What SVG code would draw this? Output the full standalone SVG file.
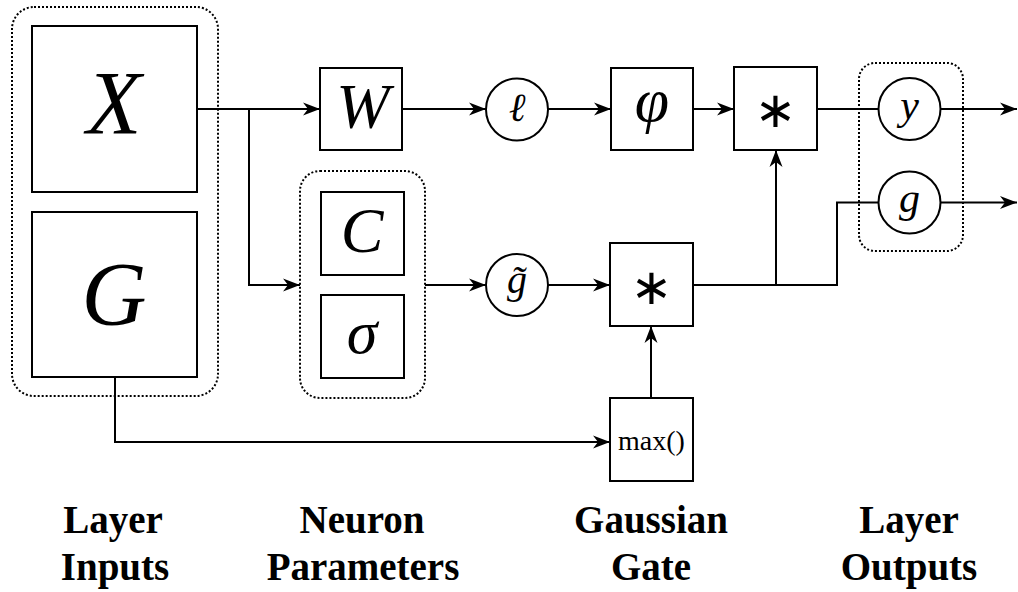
<svg xmlns="http://www.w3.org/2000/svg" width="1018" height="592" viewBox="0 0 1018 592">
<style>
.box{fill:#fff;stroke:#000;stroke-width:2}
.grp{fill:none;stroke:#000;stroke-width:2;stroke-dasharray:2 2}
.ln{fill:none;stroke:#000;stroke-width:2}
.m{font-family:"Liberation Serif","DejaVu Serif",serif;font-style:italic;text-anchor:middle;fill:#000}
.op{font-family:"DejaVu Sans",sans-serif;text-anchor:middle;fill:#000}
.fn{font-family:"Liberation Serif",serif;text-anchor:middle;fill:#000}
.lbl{font-family:"Liberation Serif",serif;font-weight:bold;font-size:39px;text-anchor:middle;fill:#000}
</style>
<defs>
<marker id="ah" markerUnits="userSpaceOnUse" markerWidth="18" markerHeight="16" refX="17" refY="8" orient="auto">
<path d="M0,1.5 L17,8 L0,14.5 L5,8 Z" fill="#000"/>
</marker>
</defs>
<g id="inputs-group"><rect class="grp" x="12" y="7" width="206" height="389" rx="22"/></g>
<g id="params-group"><rect class="grp" x="300" y="171" width="125" height="227" rx="20"/></g>
<g id="outputs-group"><rect class="grp" x="859" y="63" width="104" height="188" rx="16"/></g>
<g id="connectors">
<path class="ln" d="M197,109 H320" marker-end="url(#ah)"/>
<path class="ln" d="M249,109 V285 H300" marker-end="url(#ah)"/>
<path class="ln" d="M402,109 H486" marker-end="url(#ah)"/>
<path class="ln" d="M548,109 H611" marker-end="url(#ah)"/>
<path class="ln" d="M693,109 H734" marker-end="url(#ah)"/>
<path class="ln" d="M817,109 H878"/>
<path class="ln" d="M941,109 H1017" marker-end="url(#ah)"/>
<path class="ln" d="M425,285 H486" marker-end="url(#ah)"/>
<path class="ln" d="M548,285 H610" marker-end="url(#ah)"/>
<path class="ln" d="M693,285 H837 V202.5 H878"/>
<path class="ln" d="M776,285 V150" marker-end="url(#ah)"/>
<path class="ln" d="M941,202.5 H1017" marker-end="url(#ah)"/>
<path class="ln" d="M115,377 V442 H610" marker-end="url(#ah)"/>
<path class="ln" d="M651,398 V326" marker-end="url(#ah)"/>
</g>
<g id="X"><rect class="box" x="32" y="26" width="165" height="166"/><text class="m" x="114" y="134" font-size="90">X</text></g>
<g id="G"><rect class="box" x="32" y="212" width="165" height="165"/><text class="m" x="114" y="325" font-size="90">G</text></g>
<g id="W"><rect class="box" x="320" y="68" width="82" height="82"/><text class="m" x="363" y="128" font-size="64">W</text></g>
<g id="ell"><circle class="box" cx="517" cy="109.5" r="31"/><text class="m" x="517" y="121" font-size="40" style="font-family:'DejaVu Serif',serif">ℓ</text></g>
<g id="phi"><rect class="box" x="611" y="68" width="82" height="82"/><text class="m" x="652" y="121" font-size="62">φ</text></g>
<g id="mul1"><rect class="box" x="734" y="67" width="83" height="83"/><text class="op" x="775.5" y="127" font-size="50">∗</text></g>
<g id="C"><rect class="box" x="321" y="192" width="83" height="83"/><text class="m" x="362" y="252" font-size="64">C</text></g>
<g id="sigma"><rect class="box" x="321" y="295" width="83" height="83"/><text class="m" x="362" y="353" font-size="62">σ</text></g>
<g id="gtilde"><circle class="box" cx="517" cy="285" r="31"/><text class="m" x="517" y="293" font-size="40">g̃</text></g>
<g id="mul2"><rect class="box" x="610" y="243" width="83" height="83"/><text class="op" x="651.5" y="303.5" font-size="50">∗</text></g>
<g id="max"><rect class="box" x="610" y="398" width="83" height="83"/><text class="fn" x="651.5" y="450" font-size="28">max()</text></g>
<g id="y"><circle class="box" cx="909.5" cy="109" r="31"/><text class="m" x="909.5" y="119" font-size="42">y</text></g>
<g id="g"><circle class="box" cx="909.5" cy="202.5" r="31"/><text class="m" x="909.5" y="212" font-size="42">g</text></g>
<g id="labels">
<text class="lbl" x="113" y="533">Layer</text>
<text class="lbl" x="115" y="580">Inputs</text>
<text class="lbl" x="362" y="533">Neuron</text>
<text class="lbl" x="363" y="580">Parameters</text>
<text class="lbl" x="651" y="533">Gaussian</text>
<text class="lbl" x="651" y="580">Gate</text>
<text class="lbl" x="909" y="533">Layer</text>
<text class="lbl" x="909" y="580">Outputs</text>
</g>
</svg>
